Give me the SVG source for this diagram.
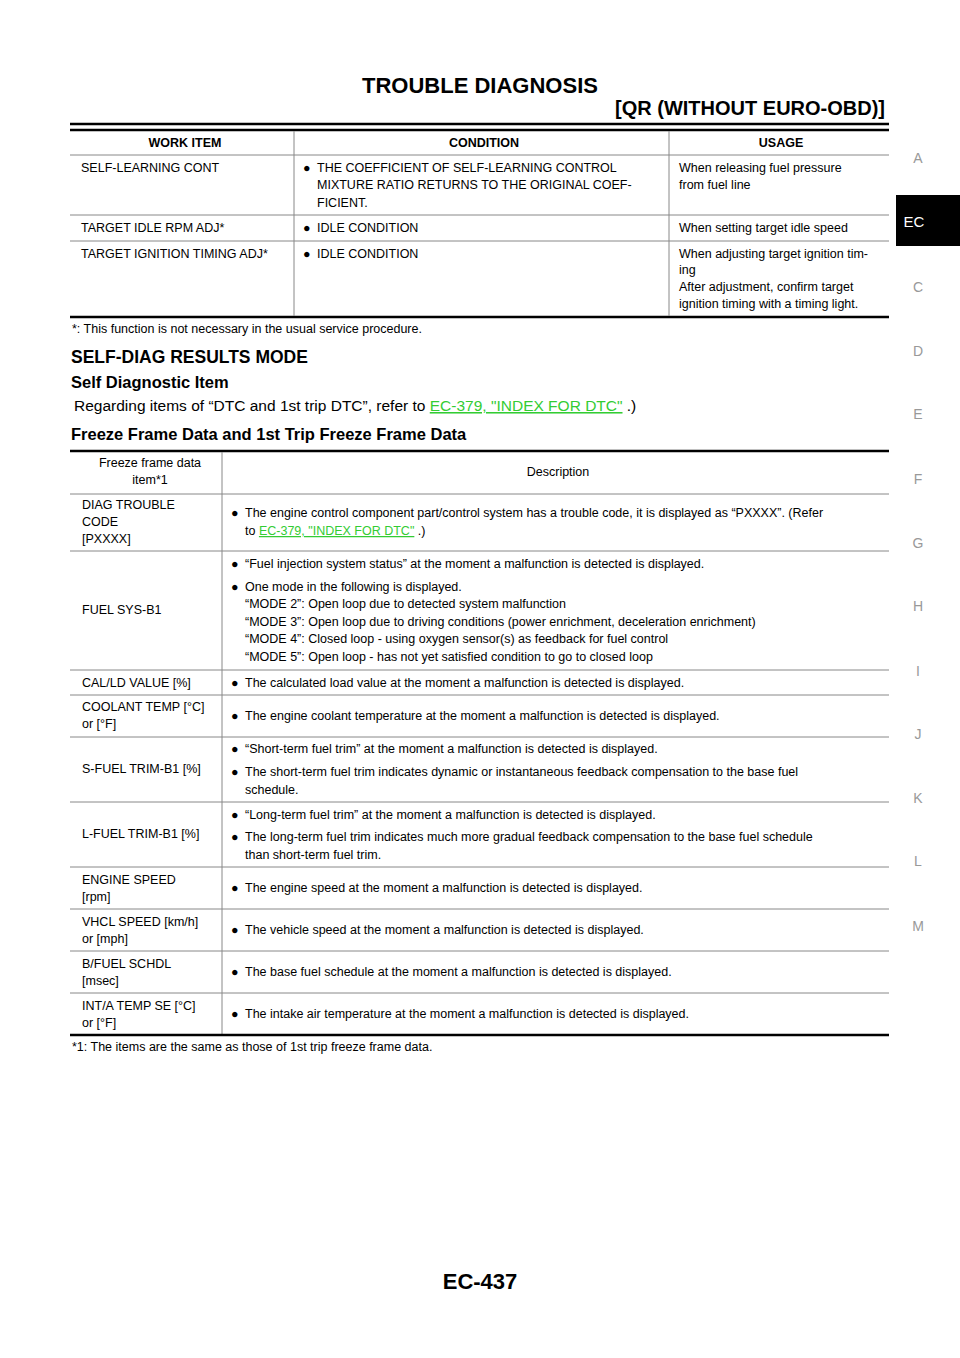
<svg xmlns="http://www.w3.org/2000/svg" width="960" height="1358" viewBox="0 0 960 1358">
<style>
text{font-family:"Liberation Sans",Arial,sans-serif;font-size:12.5px;fill:#000}
.h{font-weight:bold;font-size:12.5px}
.side{fill:#999;font-size:14px;text-anchor:middle}
.lk{fill:#33cc33;text-decoration:underline}
.t{stroke:#000;stroke-width:2.5}
.n{stroke:#888;stroke-width:1}
.c{text-anchor:middle}
</style>
<rect width="960" height="1358" fill="#fff"/>
<g id="header">
<text x="480" y="93" class="c" style="font-weight:bold;font-size:22px">TROUBLE DIAGNOSIS</text>
<text x="885" y="115" style="font-weight:bold;font-size:20px;text-anchor:end">[QR (WITHOUT EURO-OBD)]</text>
<line x1="70" y1="124" x2="889" y2="124" class="t"/>
</g>
<g id="sidebar">
<rect x="896" y="195" width="64" height="51" fill="#000"/>
<text x="914" y="227" style="fill:#fff;font-size:15px;text-anchor:middle">EC</text>
<text x="918" y="163" class="side">A</text>
<text x="918" y="292" class="side">C</text>
<text x="918" y="356" class="side">D</text>
<text x="918" y="419" class="side">E</text>
<text x="918" y="484" class="side">F</text>
<text x="918" y="548" class="side">G</text>
<text x="918" y="611" class="side">H</text>
<text x="918" y="676" class="side">I</text>
<text x="918" y="739" class="side">J</text>
<text x="918" y="803" class="side">K</text>
<text x="918" y="866" class="side">L</text>
<text x="918" y="931" class="side">M</text>
</g>
<g id="table1">
<line x1="70" y1="130" x2="889" y2="130" class="t"/>
<line x1="70" y1="155" x2="889" y2="155" class="n"/>
<line x1="70" y1="215" x2="889" y2="215" class="n"/>
<line x1="70" y1="241" x2="889" y2="241" class="n"/>
<line x1="70" y1="317" x2="889" y2="317" class="t"/>
<line x1="294" y1="131" x2="294" y2="316" class="n"/>
<line x1="669" y1="131" x2="669" y2="316" class="n"/>
<text x="185" y="147" class="h c">WORK ITEM</text>
<text x="484" y="147" class="h c">CONDITION</text>
<text x="781" y="147" class="h c">USAGE</text>
<text x="81" y="172">SELF-LEARNING CONT</text>
<text x="303" y="172">●</text><text x="317" y="172">THE COEFFICIENT OF SELF-LEARNING CONTROL</text>
<text x="317" y="189">MIXTURE RATIO RETURNS TO THE ORIGINAL COEF-</text>
<text x="317" y="207">FICIENT.</text>
<text x="679" y="172">When releasing fuel pressure</text>
<text x="679" y="189">from fuel line</text>
<text x="81" y="232">TARGET IDLE RPM ADJ*</text>
<text x="303" y="232">●</text><text x="317" y="232">IDLE CONDITION</text>
<text x="679" y="232">When setting target idle speed</text>
<text x="81" y="258">TARGET IGNITION TIMING ADJ*</text>
<text x="303" y="258">●</text><text x="317" y="258">IDLE CONDITION</text>
<text x="679" y="258">When adjusting target ignition tim-</text>
<text x="679" y="274">ing</text>
<text x="679" y="291">After adjustment, confirm target</text>
<text x="679" y="308">ignition timing with a timing light.</text>
<text x="72" y="333">*: This function is not necessary in the usual service procedure.</text>
</g>
<g id="section">
<text x="71" y="363" style="font-weight:bold;font-size:17.5px">SELF-DIAG RESULTS MODE</text>
<text x="71" y="388" style="font-weight:bold;font-size:16.5px">Self Diagnostic Item</text>
<text x="74" y="411" style="font-size:15.5px">Regarding items of “DTC and 1st trip DTC”, refer to <tspan class="lk">EC-379, "INDEX FOR DTC"</tspan> .)</text>
<text x="71" y="440" style="font-weight:bold;font-size:16.5px">Freeze Frame Data and 1st Trip Freeze Frame Data</text>
</g>
<g id="table2">
<line x1="70" y1="451" x2="889" y2="451" class="t"/>
<line x1="222" y1="452" x2="222" y2="1034" class="n"/>
<g class="rows">
<line x1="70" y1="494" x2="889" y2="494" class="n"/>
<line x1="70" y1="551" x2="889" y2="551" class="n"/>
<line x1="70" y1="670" x2="889" y2="670" class="n"/>
<line x1="70" y1="695" x2="889" y2="695" class="n"/>
<line x1="70" y1="737" x2="889" y2="737" class="n"/>
<line x1="70" y1="802" x2="889" y2="802" class="n"/>
<line x1="70" y1="867" x2="889" y2="867" class="n"/>
<line x1="70" y1="909" x2="889" y2="909" class="n"/>
<line x1="70" y1="951" x2="889" y2="951" class="n"/>
<line x1="70" y1="993" x2="889" y2="993" class="n"/>
</g>
<line x1="70" y1="1035" x2="889" y2="1035" class="t"/>
<text x="150" y="467" class="c">Freeze frame data</text>
<text x="150" y="484" class="c">item*1</text>
<text x="558" y="476" class="c">Description</text>
<text x="82" y="509">DIAG TROUBLE</text><text x="82" y="526">CODE</text><text x="82" y="543">[PXXXX]</text>
<text x="231" y="517">●</text><text x="245" y="517">The engine control component part/control system has a trouble code, it is displayed as “PXXXX”. (Refer</text>
<text x="245" y="535">to <tspan class="lk">EC-379, "INDEX FOR DTC"</tspan> .)</text>
<text x="82" y="614">FUEL SYS-B1</text>
<text x="231" y="568">●</text><text x="245" y="568">“Fuel injection system status” at the moment a malfunction is detected is displayed.</text>
<text x="231" y="591">●</text><text x="245" y="591">One mode in the following is displayed.</text>
<text x="245" y="608">“MODE 2”: Open loop due to detected system malfunction</text>
<text x="245" y="626">“MODE 3”: Open loop due to driving conditions (power enrichment, deceleration enrichment)</text>
<text x="245" y="643">“MODE 4”: Closed loop - using oxygen sensor(s) as feedback for fuel control</text>
<text x="245" y="661">“MODE 5”: Open loop - has not yet satisfied condition to go to closed loop</text>
<text x="82" y="687">CAL/LD VALUE [%]</text>
<text x="231" y="687">●</text><text x="245" y="687">The calculated load value at the moment a malfunction is detected is displayed.</text>
<text x="82" y="711">COOLANT TEMP [°C]</text><text x="82" y="728">or [°F]</text>
<text x="231" y="720">●</text><text x="245" y="720">The engine coolant temperature at the moment a malfunction is detected is displayed.</text>
<text x="82" y="773">S-FUEL TRIM-B1 [%]</text>
<text x="231" y="753">●</text><text x="245" y="753">“Short-term fuel trim” at the moment a malfunction is detected is displayed.</text>
<text x="231" y="776">●</text><text x="245" y="776">The short-term fuel trim indicates dynamic or instantaneous feedback compensation to the base fuel</text>
<text x="245" y="794">schedule.</text>
<text x="82" y="838">L-FUEL TRIM-B1 [%]</text>
<text x="231" y="819">●</text><text x="245" y="819">“Long-term fuel trim” at the moment a malfunction is detected is displayed.</text>
<text x="231" y="841">●</text><text x="245" y="841">The long-term fuel trim indicates much more gradual feedback compensation to the base fuel schedule</text>
<text x="245" y="859">than short-term fuel trim.</text>
<text x="82" y="884">ENGINE SPEED</text><text x="82" y="901">[rpm]</text>
<text x="231" y="892">●</text><text x="245" y="892">The engine speed at the moment a malfunction is detected is displayed.</text>
<text x="82" y="926">VHCL SPEED [km/h]</text><text x="82" y="943">or [mph]</text>
<text x="231" y="934">●</text><text x="245" y="934">The vehicle speed at the moment a malfunction is detected is displayed.</text>
<text x="82" y="968">B/FUEL SCHDL</text><text x="82" y="985">[msec]</text>
<text x="231" y="976">●</text><text x="245" y="976">The base fuel schedule at the moment a malfunction is detected is displayed.</text>
<text x="82" y="1010">INT/A TEMP SE [°C]</text><text x="82" y="1027">or [°F]</text>
<text x="231" y="1018">●</text><text x="245" y="1018">The intake air temperature at the moment a malfunction is detected is displayed.</text>
<text x="72" y="1051">*1: The items are the same as those of 1st trip freeze frame data.</text>
</g>
<text x="480" y="1289" class="c" style="font-weight:bold;font-size:22px">EC-437</text>
</svg>
